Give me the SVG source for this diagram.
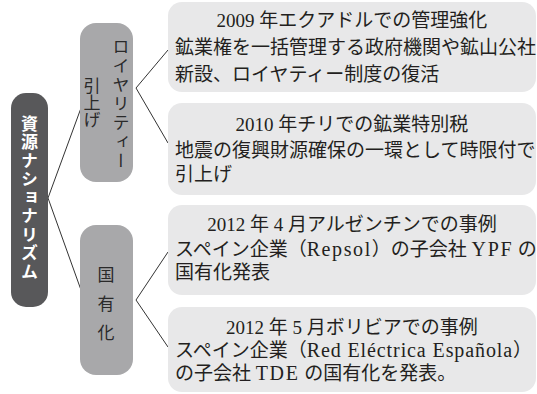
<svg xmlns="http://www.w3.org/2000/svg" width="537" height="394" viewBox="0 0 537 394">
<style>
.t{font-family:"Liberation Serif","Noto Sans CJK JP",serif;font-size:19px;fill:#231f20}
.lat{font-size:20px;letter-spacing:1.6px}
.v{font-family:"Noto Sans CJK JP",sans-serif;writing-mode:vertical-rl;text-orientation:upright;fill:#2a2a2a}
.leaf{fill:#e8e8e9}
.mid{fill:#a8a8aa}
.c{stroke:#333;stroke-width:1;fill:none}
</style>
<rect width="537" height="394" fill="#fff"/>
<g id="connectors">
<polyline class="c" points="81,108 48,198 81,290"/>
<polyline class="c" points="168,50 136,88 168,143"/>
<polyline class="c" points="168,252 136,300 168,347"/>
</g>
<g id="main">
<rect x="11" y="93" width="37" height="214" rx="15" fill="#58585a"/>
<text class="v" x="29.5" y="115" style="font-size:17px;font-weight:bold;fill:#fff;letter-spacing:1.5px">資源ナショナリズム</text>
</g>
<g id="royalty">
<rect class="mid" x="80" y="23" width="53" height="159" rx="16"/>
<text class="v" x="121" y="38" style="font-size:17px;letter-spacing:2px">ロイヤリティー</text>
<text class="v" x="92" y="77" style="font-size:17px;letter-spacing:0px">引上げ</text>
</g>
<g id="nationalize">
<rect class="mid" x="80" y="225" width="53" height="150" rx="16"/>
<text class="v" x="106" y="266" style="font-size:17px;letter-spacing:12px">国有化</text>
</g>
<g id="ecuador">
<rect class="leaf" x="168" y="2" width="368" height="90" rx="14"/>
<text class="t" x="352" y="27" text-anchor="middle">2009 年エクアドルでの管理強化</text>
<text class="t" x="175" y="54">鉱業権を一括管理する政府機関や鉱山公社</text>
<text class="t" x="175" y="81">新設、ロイヤティー制度の復活</text>
</g>
<g id="chile">
<rect class="leaf" x="168" y="103" width="368" height="92" rx="14"/>
<text class="t" x="352" y="131" text-anchor="middle">2010 年チリでの鉱業特別税</text>
<text class="t" x="175" y="157">地震の復興財源確保の一環として時限付で</text>
<text class="t" x="175" y="181">引上げ</text>
</g>
<g id="argentina">
<rect class="leaf" x="168" y="205" width="368" height="90" rx="14"/>
<text class="t" x="352" y="231" text-anchor="middle">2012 年 4 月アルゼンチンでの事例</text>
<text class="t" x="175" y="256">スペイン企業（<tspan class="lat">Repsol</tspan>）の子会社 <tspan class="lat">YPF</tspan> の</text>
<text class="t" x="175" y="279">国有化発表</text>
</g>
<g id="bolivia">
<rect class="leaf" x="168" y="307" width="368" height="85" rx="14"/>
<text class="t" x="352" y="334" text-anchor="middle">2012 年 5 月ボリビアでの事例</text>
<text class="t" x="175" y="357">スペイン企業（<tspan class="lat" style="letter-spacing:0.9px">Red Eléctrica Española</tspan>）</text>
<text class="t" x="175" y="380">の子会社 <tspan class="lat">TDE</tspan> の国有化を発表。</text>
</g>
</svg>
